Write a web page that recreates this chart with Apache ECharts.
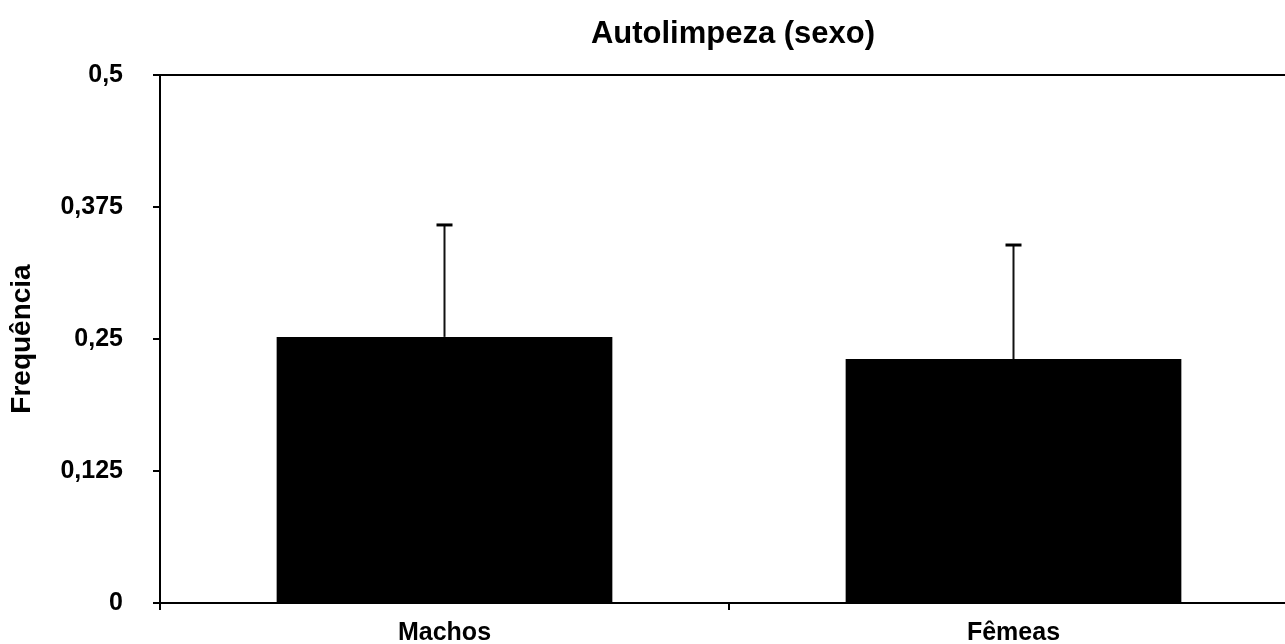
<!DOCTYPE html>
<html><head><meta charset="utf-8">
<script src="https://cdn.jsdelivr.net/npm/echarts@6/dist/echarts.min.js"></script>
<style>html,body{margin:0;padding:0;background:#fff}#c{width:1285px;height:644px}</style>
</head><body><div id="c"></div>
<script>
const categories = ['Machos', 'Fêmeas'];
const means = [0.252, 0.231];
const errors = [0.106, 0.108];
const yTicks = [0, 0.125, 0.25, 0.375, 0.5];
const tickLabels = ['0', '0,125', '0,25', '0,375', '0,5'];

const chart = echarts.init(document.getElementById('c'));
const font = 'Liberation Sans, Arial, sans-serif';
chart.setOption({
  animation: false,
  backgroundColor: '#fff',
  title: {
    text: 'Autolimpeza (sexo)', left: 728, top: 14, textAlign: 'center',
    textStyle: {fontFamily: font, fontWeight: 'bold', fontSize: 31, color: '#000'}
  },
  grid: {left: 160, top: 75, width: 1138, height: 528, outerBoundsMode: 'none', containLabel: false},
  xAxis: [{
    type: 'category', data: categories,
    axisLine: {lineStyle: {color: '#000', width: 2}},
    axisTick: {show: true, length: 7, lineStyle: {color: '#000', width: 2}},
    axisLabel: {fontFamily: font, fontWeight: 'bold', fontSize: 25, color: '#000', margin: 18}
  }, {
    type: 'category', data: categories, position: 'top',
    axisLine: {lineStyle: {color: '#000', width: 2}},
    axisTick: {show: false}, axisLabel: {show: false}
  }],
  yAxis: {
    type: 'value', min: 0, max: 0.5, interval: 0.125,
    name: 'Frequência', nameLocation: 'middle', nameGap: 124, nameRotate: 90,
    nameTextStyle: {fontFamily: font, fontWeight: 'bold', fontSize: 28, color: '#000'},
    axisLine: {show: true, lineStyle: {color: '#000', width: 2}},
    axisTick: {show: true, length: 7, lineStyle: {color: '#000', width: 2}},
    splitLine: {show: false},
    axisLabel: {
      fontFamily: font, fontWeight: 'bold', fontSize: 25, color: '#000', margin: 37,
      formatter: v => { const i = yTicks.indexOf(v); return i >= 0 ? tickLabels[i] : ''; }
    }
  },
  series: [{
    type: 'bar', data: means, barWidth: '59%',
    itemStyle: {color: '#000'}
  }, {
    type: 'custom',
    data: means.map((m, i) => [i, m, m + errors[i]]),
    renderItem: (params, api) => {
      const base = api.coord([api.value(0), api.value(1)]);
      const top = api.coord([api.value(0), api.value(2)]);
      return {
        type: 'group', children: [
          {type: 'line', shape: {x1: base[0], y1: base[1], x2: top[0], y2: top[1]},
           style: {stroke: '#111', lineWidth: 2}},
          {type: 'line', shape: {x1: top[0] - 8, y1: top[1], x2: top[0] + 8, y2: top[1]},
           style: {stroke: '#000', lineWidth: 3}}
        ]
      };
    },
    z: 5
  }]
});
</script></body></html>
